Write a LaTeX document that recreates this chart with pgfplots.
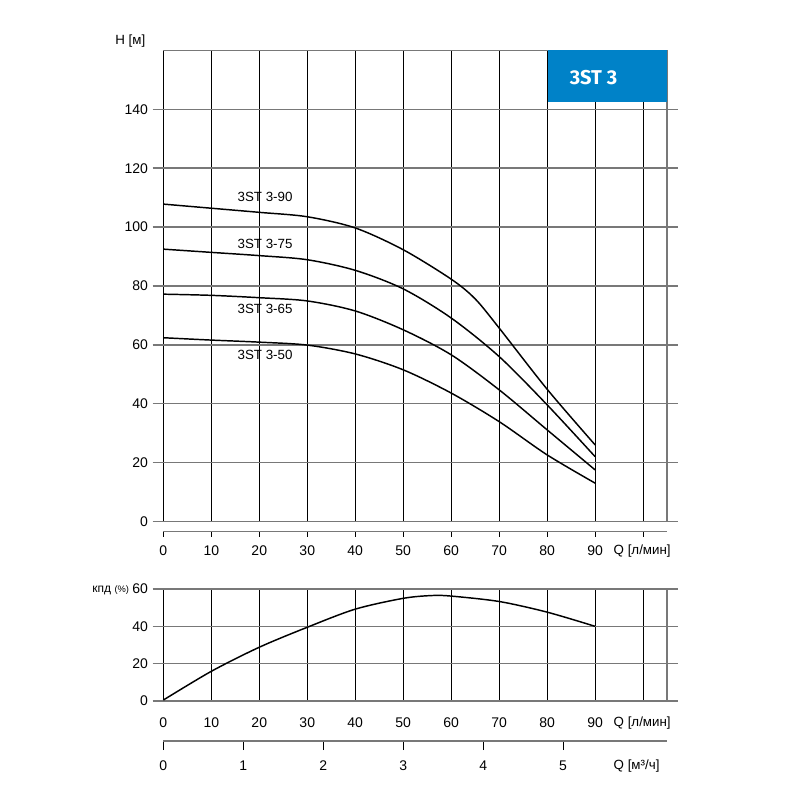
\documentclass[border=0pt]{standalone}
\usepackage{fontspec}
\setmainfont{Liberation Sans}
\newfontfamily\fira{Fira Sans}
\usepackage{pgfplots}
\pgfplotsset{compat=1.18}
\definecolor{boxblue}{RGB}{0,130,200}
\definecolor{hgrid}{RGB}{120,120,120}
\begin{document}
\begin{tikzpicture}
\path[use as bounding box] (0pt,0pt) rectangle (600pt,600pt);
\pgfplotsset{
  every axis/.append style={font=\fontsize{10.5}{12}\selectfont,
    /pgf/number format/assume math mode=true, scale only axis},
  chartgrid/.style={
    width=377.8pt, xmin=0, xmax=105,
    xtick={0,10,...,100},
    grid=major, x grid style={black, line width=0.8pt}, y grid style={hgrid, line width=1.1pt},
    separate axis lines, x axis line style={hgrid, line width=1.1pt}, y axis line style={draw=none},
    xtick style={draw=none}, ytick style={hgrid, line width=1.1pt},
    tick align=outside, major tick length=8pt,
    clip=false,
  },
  curve/.style={black, line width=1.1pt, smooth, tension=0.5, no marks},
}
% ---------- H(Q) ----------
\begin{axis}[chartgrid, at={(122.5pt,208.95pt)}, anchor=south west,
  height=353.2pt, ymin=0, ymax=160, ytick={0,20,...,140},
  xticklabels={}]
\addplot[curve] coordinates {(0,107.8)(10,106.4)(20,105.0)(30,103.5)(40,99.7)(50,92.3)(60,82.3)(65,75.6)(70,65.7)(80,44.9)(90,26.0)};
\addplot[curve] coordinates {(0,92.5)(10,91.4)(20,90.3)(30,88.9)(40,85.3)(50,79.0)(60,69.1)(70,56.0)(80,39.6)(90,22.0)};
\addplot[curve] coordinates {(0,77.2)(10,76.8)(20,76.0)(30,74.9)(40,71.5)(50,65.1)(60,56.6)(70,44.7)(80,31.1)(90,17.5)};
\addplot[curve] coordinates {(0,62.4)(10,61.6)(20,60.9)(30,59.9)(40,56.9)(50,51.5)(60,43.6)(70,33.9)(80,22.6)(90,13.0)};
\node[font=\fontsize{10}{12}\selectfont] at (axis cs:21.2,110.1) {3ST 3-90};
\node[font=\fontsize{10}{12}\selectfont] at (axis cs:21.2,94.2) {3ST 3-75};
\node[font=\fontsize{10}{12}\selectfont] at (axis cs:21.2,72.2) {3ST 3-65};
\node[font=\fontsize{10}{12}\selectfont] at (axis cs:21.2,56.6) {3ST 3-50};
\draw[hgrid, line width=1.1pt] (rel axis cs:1,0) -- (rel axis cs:1,1);
\end{axis}
% blue box
\fill[boxblue] (411pt,523.5pt) rectangle (500.25pt,562.5pt);
\node[text=white, font=\fira\bfseries\fontsize{15}{16}\selectfont] at (445.1pt,541.7pt) {3ST 3};
\node[anchor=east] at (112.5pt,569.5pt) {H [м]};
% x axis below H(Q)
\begin{axis}[at={(122.5pt,201.2pt)}, anchor=south west, width=377.8pt, height=5pt,
  xmin=0, xmax=105, ymin=0, ymax=1,
  axis x line=bottom, axis y line=none, axis line style={-, hgrid, line width=1pt},
  xtick={0,10,...,100}, xticklabels={0,10,20,30,40,50,60,70,80,90,{}},
  tick align=outside, major tick length=3.75pt, xtick style={black, line width=0.8pt},
  xticklabel shift=3pt]
\end{axis}
\node[anchor=west] at (456.75pt,186.9pt) {Q [л/мин]};
% ---------- efficiency ----------
\begin{axis}[chartgrid, at={(122.5pt,74.25pt)}, anchor=south west,
  height=84pt, ymin=0, ymax=60, ytick={0,20,40,60},
  xticklabels={0,10,20,30,40,50,60,70,80,90,{}}, xticklabel shift=1.2pt]
\addplot[curve] coordinates {(0,0.5)(10,15.9)(20,28.8)(30,39.5)(40,49.2)(50,55.0)(56,56.5)(60,56.2)(70,53.3)(80,47.6)(90,40)};
\draw[hgrid, line width=1.1pt] (rel axis cs:1,0) -- (rel axis cs:1,1);
\end{axis}
\node[anchor=east, inner sep=0pt] at (97pt,157.5pt) {\fontsize{9}{10}\selectfont кпд \fontsize{7}{8}\selectfont(\%)};
\node[anchor=west] at (456.75pt,57.75pt) {Q [л/мин]};
% m3/h axis
\begin{axis}[at={(122.5pt,44.25pt)}, anchor=south west, width=377.8pt, height=5pt,
  xmin=0, xmax=105, ymin=0, ymax=1,
  axis x line=bottom, axis y line=none, axis line style={-, hgrid, line width=1pt},
  xtick={0,16.6667,33.3333,50,66.6667,83.3333}, xticklabels={0,1,2,3,4,5},
  tick align=outside, major tick length=6.75pt, xtick style={black, line width=0.8pt},
  xticklabel shift=4.7pt]
\end{axis}
\node[anchor=west] at (456.75pt,25.5pt) {Q [м³/ч]};
\end{tikzpicture}
\end{document}
